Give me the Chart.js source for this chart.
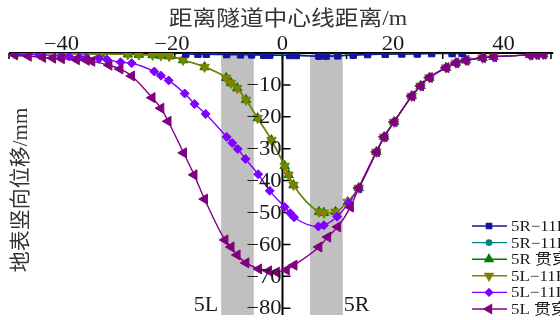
<!DOCTYPE html>
<html>
<head>
<meta charset="utf-8">
<script src="https://cdn.jsdelivr.net/npm/chart.js@4"></script>
<style>
  html, body { margin: 0; padding: 0; background: #fff; overflow: hidden; }
</style>
</head>
<body>
<canvas id="c" width="560" height="320"></canvas>
<script>
/* Settlement troughs: ground vertical displacement vs distance from tunnel centre line. */

const seriesNames = ['5R−11R', '5R−11L', '5R 贯穿', '5L−11R', '5L−11L', '5L 贯穿'];

// 5R-11R (blue squares, almost flat)
const x5R11R = [-17.5, -15.3, -13.8, -10.1, -7.6, -5.6, -3.4, -2.3, 1.3, 2.5, 6.6, 7.9, 10, 12.8, 15.4, 18.6, 21.6, 24.4, 27, 30.7, 32.5];
const y5R11R = [-0.3, -0.4, -0.4, -0.5, -0.6, -0.6, -0.7, -0.7, -0.8, -0.8, -1.0, -1.0, -0.9, -0.7, -0.5, -0.4, -0.3, -0.3, -0.2, -0.2, -0.1];

// 5R-11L (teal circles, hidden under the blue one)
const x5R11L = [-17.5, -13.8, -10.1, -5.6, -2.3, 2.5, 6.6, 10, 12.8, 18.6, 24.4, 30.7];
const y5R11L = [-0.2, -0.3, -0.4, -0.5, -0.6, -0.7, -0.9, -0.8, -0.6, -0.3, -0.2, -0.1];

// 5R 贯穿 and 5L-11R (green / olive, drawn on top of each other)
const x5L11R = [-48, -40, -33, -28, -26, -23.5, -22, -20.5, -18, -14.1, -10.2, -9.3, -8.2, -6.6, -4.5, -2, 0.4, 1.1, 2, 6.6, 7.5, 9.6, 11.8, 13.8, 17, 18.4, 20.2, 23.4, 25, 26.6, 29.6, 31.4, 33.2, 36.2, 38.2, 44.8, 46, 47.2];
const y5L11R = [-0.1, -0.2, -0.3, -0.4, -0.5, -0.6, -0.8, -1.0, -2.2, -4.4, -7.8, -9.4, -11.0, -14.7, -20.4, -27.3, -35.4, -38.2, -41.4, -49.8, -50.1, -49.8, -46.7, -42.3, -31.0, -26.3, -21.6, -13.5, -10.3, -7.7, -4.6, -3.1, -2.3, -1.5, -1.2, -0.6, -0.5, -0.4];
const x5RGC = x5L11R;
const y5RGC = [-0.1, -0.2, -0.3, -0.4, -0.5, -0.6, -0.8, -1.0, -2.2, -4.4, -7.8, -9.4, -11.0, -14.7, -20.4, -27.3, -35.4, -38.2, -41.4, -49.8, -50.1, -49.8, -46.7, -42.3, -31.0, -26.3, -21.6, -13.5, -10.3, -7.7, -4.6, -3.1, -2.3, -1.5, -1.2, -0.6, -0.5, -0.4];

// 5L-11L (violet diamonds)
const x5L11L = [-48.5, -44, -40, -38.6, -36.8, -35.5, -33.2, -31.8, -29.3, -27.3, -23.2, -22, -20.6, -17.7, -15.9, -13.9, -10.1, -9.1, -8.1, -6.7, -4.4, -2.3, 0.4, 1.4, 2.1, 6.5, 7.5, 9.9, 12, 13.8, 17, 18.4, 20.2, 23.4, 25, 26.6, 29.6, 31.4, 33.2, 36.2, 38.2, 44.8, 46, 47.2];
const y5L11L = [-0.3, -0.6, -0.9, -1.1, -1.3, -1.5, -1.8, -2.0, -2.9, -3.2, -5.8, -7.1, -8.6, -12.7, -16.0, -19.1, -26.3, -28.2, -30.1, -33.2, -38.0, -43.2, -48.3, -50.2, -51.5, -54.4, -54.0, -51.3, -47.0, -42.3, -31.0, -26.3, -21.6, -13.5, -10.3, -7.7, -4.6, -3.1, -2.3, -1.5, -1.2, -0.6, -0.5, -0.4];

// 5L 贯穿 (purple left triangles)
const x5LGC = [-48.5, -46, -43.4, -41.6, -40, -37.3, -35.5, -34.5, -31.4, -29.4, -27.3, -23.6, -22, -20.7, -17.9, -16, -14.1, -10.4, -9.3, -8.2, -6.6, -4.3, -2.5, -1.1, 0.7, 2.1, 6.6, 8.2, 10, 12.3, 13.8, 17, 18.4, 20.2, 23.4, 25, 26.6, 29.6, 31.4, 33.2, 36.2, 38.2, 44.8, 46, 47.2];
const y5LGC = [-0.6, -1.0, -1.4, -1.6, -1.8, -2.1, -2.3, -2.6, -3.8, -5.0, -7.2, -14.0, -17.3, -21.4, -31.3, -38.2, -45.8, -58.6, -60.8, -63.3, -65.8, -67.7, -68.3, -68.7, -68.0, -66.5, -60.8, -57.7, -54.5, -48.3, -42.3, -31.0, -26.3, -21.6, -13.5, -10.3, -7.7, -4.6, -3.1, -2.3, -1.5, -1.2, -0.6, -0.5, -0.4];

// axes
const xTickLabels = [-40, -20, 0, 20, 40];
const xTickMarks  = [-49.5, -33.5, -19.5, 0, 11.6, 29, 48.6];
const yTickLabels = [-10, -20, -30, -40, -50, -60, -70, -80];
// tunnels (shaded bands) and their labels
const tunnelBands  = [[-11.1, -5.2], [5.0, 10.9]];
const tunnelLabels = ['5L', '5R'];

const SERIF = '"Liberation Serif", "Noto Sans CJK SC", serif';
const STRETCH = 1.13;   // the source figure is a bit wider than tall
const zip = (xs, ys) => xs.map((x, i) => ({ x, y: ys[i] }));

const styles = [
  { color: '#1414a0', pointStyle: 'rect',     rotation: 0,   radius: 4.5 },
  { color: '#008080', pointStyle: 'circle',   rotation: 0,   radius: 3.5 },
  { color: '#008000', pointStyle: 'triangle', rotation: 0,   radius: 5.5 },
  { color: '#808000', pointStyle: 'triangle', rotation: 180, radius: 5.5 },
  { color: '#8000ff', pointStyle: 'rectRot',  rotation: 0,   radius: 4.5 },
  { color: '#800080', pointStyle: 'triangle', rotation: -90, radius: 5.8 }
];
const seriesData = [
  zip(x5R11R, y5R11R), zip(x5R11L, y5R11L), zip(x5RGC, y5RGC),
  zip(x5L11R, y5L11R), zip(x5L11L, y5L11L), zip(x5LGC, y5LGC)
];

const datasets = seriesData.map((data, i) => ({
  label: seriesNames[i],
  data,
  borderColor: styles[i].color,
  backgroundColor: styles[i].color,
  pointBackgroundColor: styles[i].color,
  pointBorderColor: styles[i].color,
  pointStyle: styles[i].pointStyle,
  pointRotation: styles[i].rotation,
  pointRadius: styles[i].radius,
  pointBorderWidth: 1,
  borderWidth: 1.4,
  cubicInterpolationMode: 'monotone',
  // later series painted on top, blue kept above everything
  order: i === 0 ? 0 : 7 - i
}));

// text drawn a little wider than the font, like the scanned figure
function wideText(ctx, txt, px, py, align) {
  ctx.save();
  ctx.translate(px, py);
  ctx.scale(STRETCH, 1);
  ctx.textAlign = align;
  ctx.fillText(txt, 0, 0);
  ctx.restore();
}

const deco = {
  id: 'deco',
  beforeDatasetsDraw(chart) {
    const { ctx, chartArea: a, scales: { x, y } } = chart;
    ctx.save();
    // tunnel bands
    ctx.fillStyle = '#c0c0c0';
    tunnelBands.forEach(([l, r]) => {
      const x0 = x.getPixelForValue(l), x1 = x.getPixelForValue(r);
      ctx.fillRect(x0, a.top, x1 - x0, a.bottom - a.top + 2);
    });
    // axis lines
    const x0 = x.getPixelForValue(0);
    ctx.strokeStyle = '#000';
    ctx.lineWidth = 2;
    ctx.beginPath();
    ctx.moveTo(a.left, a.top); ctx.lineTo(a.right, a.top);
    ctx.moveTo(x0, a.top); ctx.lineTo(x0, a.bottom + 2);
    ctx.stroke();
    ctx.lineWidth = 1.5;
    ctx.beginPath();
    xTickMarks.forEach(v => {
      const px = x.getPixelForValue(v);
      ctx.moveTo(px, a.top); ctx.lineTo(px, a.top + 6);
    });
    yTickLabels.forEach(v => {
      const py = y.getPixelForValue(v);
      ctx.moveTo(x0, py); ctx.lineTo(x0 + 8, py);
    });
    ctx.stroke();
    ctx.restore();
  },
  afterDatasetsDraw(chart) {
    const { ctx, chartArea: a, scales: { x, y } } = chart;
    const x0 = x.getPixelForValue(0);
    ctx.save();
    ctx.fillStyle = '#1a1a1a';
    // x tick labels (top)
    ctx.font = '20px ' + SERIF;
    ctx.textBaseline = 'alphabetic';
    xTickLabels.forEach(v => {
      wideText(ctx, v < 0 ? '−' + Math.abs(v) : String(v), x.getPixelForValue(v), a.top - 3, 'center');
    });
    // y tick labels (left of the centre axis)
    ctx.textBaseline = 'middle';
    yTickLabels.forEach(v => {
      wideText(ctx, '−' + Math.abs(v), x0 - 1, y.getPixelForValue(v) + 1, 'right');
    });
    // axis titles
    ctx.font = '21px ' + SERIF;
    ctx.fillStyle = '#333';
    wideText(ctx, '距离隧道中心线距离/m', 288, 19, 'center');
    ctx.save();
    ctx.translate(21, 190);
    ctx.rotate(-Math.PI / 2);
    ctx.textAlign = 'center';
    ctx.fillText('地表竖向位移/mm', 0, 0);
    ctx.restore();
    // tunnel labels
    ctx.fillStyle = '#1a1a1a';
    ctx.font = '22px ' + SERIF;
    ctx.textBaseline = 'alphabetic';
    ctx.textAlign = 'right';
    ctx.fillText(tunnelLabels[0], x.getPixelForValue(tunnelBands[0][0]) - 3, 311);
    ctx.textAlign = 'left';
    ctx.fillText(tunnelLabels[1], x.getPixelForValue(tunnelBands[1][1]) + 1, 311);
    // legend
    ctx.font = '15px ' + SERIF;
    ctx.textBaseline = 'middle';
    seriesNames.forEach((name, i) => {
      const ly = 226 + i * 16.6;
      const s = styles[i];
      ctx.strokeStyle = s.color;
      ctx.fillStyle = s.color;
      ctx.lineWidth = 1.4;
      ctx.beginPath(); ctx.moveTo(472, ly); ctx.lineTo(507, ly); ctx.stroke();
      Chart.helpers.drawPoint(ctx, { pointStyle: s.pointStyle, rotation: s.rotation, radius: s.radius - 0.8, borderWidth: 1 }, 489, ly);
      ctx.fillStyle = '#1a1a1a';
      wideText(ctx, name, 511, ly + 1, 'left');
    });
    ctx.restore();
  }
};

new Chart(document.getElementById('c'), {
  type: 'line',
  data: { datasets },
  options: {
    responsive: false,
    animation: false,
    layout: { padding: { left: 9, right: 0, top: 53, bottom: 7 } },
    scales: {
      x: { type: 'linear', min: -49.5, max: 49, display: false },
      y: { type: 'linear', min: -81.5, max: 0, display: false }
    },
    plugins: { legend: { display: false }, tooltip: { enabled: false } }
  },
  plugins: [deco]
});
</script>
</body>
</html>
